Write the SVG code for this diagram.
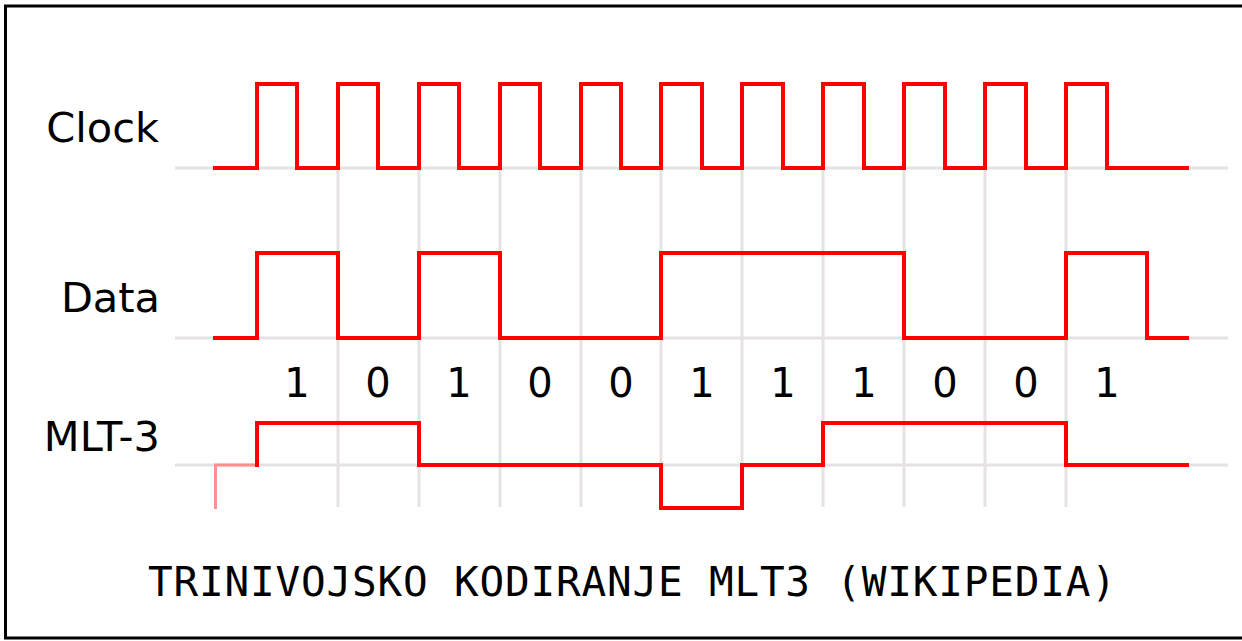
<svg xmlns="http://www.w3.org/2000/svg" width="1242" height="641" viewBox="0 0 1242 641">
<style>
.grid{stroke:#e6e1e4;stroke-width:3;fill:none}
.sig{stroke:#ff0000;stroke-width:4;fill:none;stroke-linejoin:miter;stroke-linecap:butt}
.stub{stroke:#ff9090;stroke-width:3;fill:none}
.lbl{font-family:"DejaVu Sans",sans-serif;font-size:41.5px;fill:#000}
.bit{font-family:"DejaVu Sans",sans-serif;font-size:40px;fill:#000;text-anchor:middle}
.cap{font-family:"DejaVu Sans Mono",monospace;font-size:41px;fill:#000}
</style>
<rect x="0" y="0" width="1242" height="641" fill="#ffffff"/>
<rect x="5.5" y="6" width="1250" height="632" fill="none" stroke="#000" stroke-width="3"/>
<g id="grid">
<path class="grid" d="M175,168H1228M175,338H1228M175,465H1228"/>
<path class="grid" d="M338,168V507M419,168V507M500,168V507M581,168V507M661,168V507M742,168V507M823,168V507M904,168V507M985,168V507M1066,168V507"/>
</g>
<g id="clock">
<text class="lbl" x="159" y="142" text-anchor="end">Clock</text>
<path class="sig" d="M213,168H257V84H297V168H338V84H378V168H419V84H459V168H500V84H540V168H581V84H621V168H661V84H702V168H742V84H783V168H823V84H864V168H904V84H945V168H985V84H1026V168H1066V84H1107V168H1189"/>
</g>
<g id="data">
<text class="lbl" x="160" y="312" text-anchor="end">Data</text>
<path class="sig" d="M213,338H257V253H338V338H419V253H500V338H661V253H904V338H1066V253H1147V338H1189"/>
</g>
<g id="bits">
<text class="bit" x="297" y="397">1</text>
<text class="bit" x="378" y="397">0</text>
<text class="bit" x="459" y="397">1</text>
<text class="bit" x="540" y="397">0</text>
<text class="bit" x="621" y="397">0</text>
<text class="bit" x="702" y="397">1</text>
<text class="bit" x="783" y="397">1</text>
<text class="bit" x="864" y="397">1</text>
<text class="bit" x="945" y="397">0</text>
<text class="bit" x="1026" y="397">0</text>
<text class="bit" x="1107" y="397">1</text>
</g>
<g id="mlt3">
<text class="lbl" x="160" y="451" text-anchor="end">MLT-3</text>
<path class="stub" d="M215.5,509V465H257"/>
<path class="sig" d="M255,465H257V423H419V465H661V508H742V465H823V423H1066V465H1189"/>
</g>
<g id="caption">
<text class="cap" x="148" y="596" textLength="968" lengthAdjust="spacing">TRINIVOJSKO KODIRANJE MLT3 (WIKIPEDIA)</text>
</g>
</svg>
